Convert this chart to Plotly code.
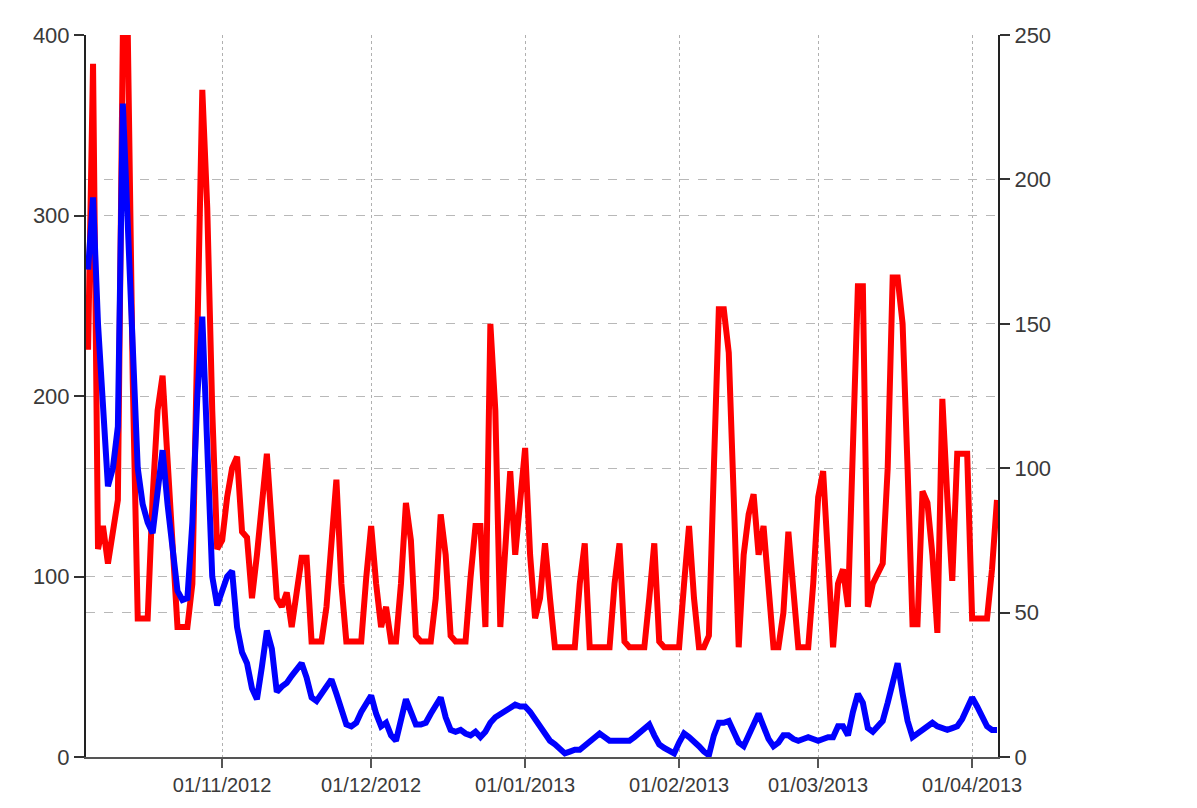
import pandas as pd
import plotly.graph_objects as go

# Daily series, 5 Oct 2012 .. 6 Apr 2013
start_date = "2012-10-05"

red_values = [
    141, 240, 72, 80, 67, 78, 89, 250, 250, 130,
    48, 48, 48, 90, 120, 132, 100, 70, 45, 45,
    45, 60, 150, 231, 190, 120, 72, 75, 90, 100,
    104, 78, 76, 55, 70, 90, 105, 80, 55, 52,
    57, 45, 58, 69, 69, 40, 40, 40, 52, 75,
    96, 60, 40, 40, 40, 40, 62, 80, 60, 45,
    52, 40, 40, 60, 88, 75, 42, 40, 40, 40,
    55, 84, 70, 42, 40, 40, 40, 62, 80, 80,
    45, 150, 120, 45, 70, 99, 70, 90, 107, 70,
    48, 55, 74, 55, 38, 38, 38, 38, 38, 60,
    74, 38, 38, 38, 38, 38, 60, 74, 40, 38,
    38, 38, 38, 55, 74, 40, 38, 38, 38, 38,
    60, 80, 55, 38, 38, 42, 100, 155, 155, 140,
    90, 38, 70, 84, 91, 70, 80, 60, 38, 38,
    50, 78, 60, 38, 38, 38, 60, 90, 99, 70,
    38, 60, 65, 52, 110, 163, 163, 52, 60, 64,
    67, 100, 166, 166, 150, 100, 46, 46, 92, 88,
    70, 43, 124, 90, 61, 105, 105, 105, 48, 48,
    48, 48, 65, 89,
]

blue_values = [
    270, 310, 240, 190, 150, 160, 183, 362, 300, 230,
    160, 140, 130, 124, 150, 170, 140, 115, 92, 87,
    88, 130, 200, 244, 170, 100, 84, 92, 100, 103,
    72, 58, 52, 38, 32, 50, 70, 60, 36, 39,
    41, 45, 48, 52, 44, 33, 31, 35, 38, 43,
    35, 25, 18, 17, 19, 25, 30, 34, 24, 17,
    19, 12, 9, 20, 32, 25, 18, 18, 19, 24,
    29, 33, 22, 15, 14, 15, 13, 12, 14, 11,
    14, 19, 22, 24, 25, 27, 29, 28, 28, 25,
    21, 17, 12, 9, 7, 4, 2, 3, 4, 4,
    6, 8, 11, 13, 11, 9, 9, 9, 9, 9,
    11, 13, 15, 18, 12, 7, 5, 3, 2, 8,
    13, 11, 9, 6, 3, 1, 12, 19, 19, 20,
    14, 8, 6, 12, 19, 24, 17, 10, 6, 8,
    12, 12, 10, 9, 10, 11, 10, 9, 10, 11,
    11, 17, 17, 12, 25, 35, 30, 16, 14, 17,
    20, 30, 42, 52, 35, 20, 11, 13, 16, 18,
    19, 17, 16, 15, 16, 17, 21, 27, 33, 28,
    22, 17, 15, 15,
]

month_ticks = ["2012-11-01", "2012-12-01", "2013-01-01",
               "2013-02-01", "2013-03-01", "2013-04-01"]
month_labels = ["01/11/2012", "01/12/2012", "01/01/2013",
                "01/02/2013", "01/03/2013", "01/04/2013"]

left_ticks = [0, 100, 200, 300, 400]
right_ticks = [0, 50, 100, 150, 200, 250]

dates = pd.date_range(start_date, periods=len(red_values), freq="D")

fig = go.Figure()
fig.add_trace(go.Scatter(x=dates, y=red_values, mode="lines",
                         line=dict(color="#ff0000", width=6),
                         yaxis="y", name="red", showlegend=False))
fig.add_trace(go.Scatter(x=dates, y=blue_values[:len(dates)], mode="lines",
                         line=dict(color="#0000ff", width=6),
                         yaxis="y2", name="blue", showlegend=False))

x_font = dict(family="Liberation Sans, Arial, sans-serif", size=20, color="#3a3a3a")
y_font = dict(family="Liberation Sans, Arial, sans-serif", size=22, color="#3a3a3a")

fig.update_layout(
    width=1197, height=808,
    margin=dict(l=78, r=207, t=27, b=59),
    paper_bgcolor="white", plot_bgcolor="white",
    xaxis=dict(
        type="date",
        range=["2012-10-04 14:00", "2013-04-06 05:00"],
        tickvals=month_ticks, ticktext=month_labels,
        tickfont=x_font,
        showgrid=True, gridcolor="#b0b0b0", griddash="dot", gridwidth=1,
        showline=True, linecolor="#555555", linewidth=2,
        ticks="outside", ticklen=9, tickcolor="#555555", tickwidth=2,
        zeroline=False,
    ),
    yaxis=dict(
        side="right", range=[0, 250], tickvals=right_ticks,
        tickfont=y_font,
        showgrid=True, gridcolor="#b8b8b8", griddash="dash", gridwidth=1,
        showline=True, linecolor="#222222", linewidth=2,
        ticks="outside", ticklen=10, tickcolor="#333333", tickwidth=2,
        zeroline=False,
    ),
    yaxis2=dict(
        side="left", overlaying="y", range=[0, 400], tickvals=left_ticks,
        tickfont=y_font,
        showgrid=True, gridcolor="#b8b8b8", griddash="dash", gridwidth=1,
        showline=True, linecolor="#222222", linewidth=2,
        ticks="outside", ticklen=10, tickcolor="#333333", tickwidth=2,
        zeroline=False,
    ),
)

fig.write_html("out.html")
